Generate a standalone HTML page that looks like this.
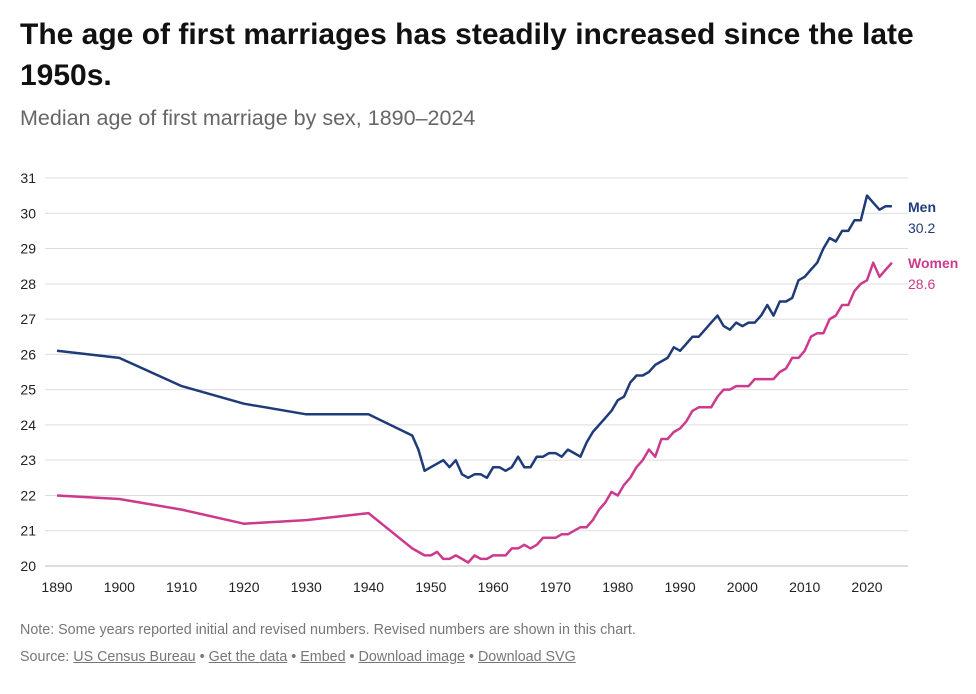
<!DOCTYPE html>
<html><head><meta charset="utf-8"><style>
body{margin:0;background:#fff;font-family:"Liberation Sans",sans-serif;width:976px;height:694px;overflow:hidden;position:relative}
h1{position:absolute;left:20px;top:14px;margin:0;font-size:30px;line-height:41px;font-weight:bold;color:#111;width:940px}
.sub{position:absolute;left:20px;top:106px;font-size:21.5px;color:#666}
.note{position:absolute;left:20px;top:622px;font-size:14.3px;color:#777}
.src{position:absolute;left:20px;top:649px;font-size:14.3px;color:#777}
.src a{color:#777;text-decoration:underline}
</style></head><body>
<h1>The age of first marriages has steadily increased since the late 1950s.</h1>
<div class="sub">Median age of first marriage by sex, 1890–2024</div>
<svg id="chart" width="976" height="694" style="position:absolute;left:0;top:0"></svg>
<div class="note">Note: Some years reported initial and revised numbers. Revised numbers are shown in this chart.</div>
<div class="src">Source: <a>US Census Bureau</a> • <a>Get the data</a> • <a>Embed</a> • <a>Download image</a> • <a>Download SVG</a></div>
<script>
const years=[1890,1900,1910,1920,1930,1940,1947,1948,1949,1950,1951,1952,1953,1954,1955,1956,1957,1958,1959,1960,1961,1962,1963,1964,1965,1966,1967,1968,1969,1970,1971,1972,1973,1974,1975,1976,1977,1978,1979,1980,1981,1982,1983,1984,1985,1986,1987,1988,1989,1990,1991,1992,1993,1994,1995,1996,1997,1998,1999,2000,2001,2002,2003,2004,2005,2006,2007,2008,2009,2010,2011,2012,2013,2014,2015,2016,2017,2018,2019,2020,2021,2022,2023,2024];
const men=[26.1,25.9,25.1,24.6,24.3,24.3,23.7,23.3,22.7,22.8,22.9,23.0,22.8,23.0,22.6,22.5,22.6,22.6,22.5,22.8,22.8,22.7,22.8,23.1,22.8,22.8,23.1,23.1,23.2,23.2,23.1,23.3,23.2,23.1,23.5,23.8,24.0,24.2,24.4,24.7,24.8,25.2,25.4,25.4,25.5,25.7,25.8,25.9,26.2,26.1,26.3,26.5,26.5,26.7,26.9,27.1,26.8,26.7,26.9,26.8,26.9,26.9,27.1,27.4,27.1,27.5,27.5,27.6,28.1,28.2,28.4,28.6,29.0,29.3,29.2,29.5,29.5,29.8,29.8,30.5,30.3,30.1,30.2,30.2];
const women=[22.0,21.9,21.6,21.2,21.3,21.5,20.5,20.4,20.3,20.3,20.4,20.2,20.2,20.3,20.2,20.1,20.3,20.2,20.2,20.3,20.3,20.3,20.5,20.5,20.6,20.5,20.6,20.8,20.8,20.8,20.9,20.9,21.0,21.1,21.1,21.3,21.6,21.8,22.1,22.0,22.3,22.5,22.8,23.0,23.3,23.1,23.6,23.6,23.8,23.9,24.1,24.4,24.5,24.5,24.5,24.8,25.0,25.0,25.1,25.1,25.1,25.3,25.3,25.3,25.3,25.5,25.6,25.9,25.9,26.1,26.5,26.6,26.6,27.0,27.1,27.4,27.4,27.8,28.0,28.1,28.6,28.2,28.4,28.6];
const yTicks=[20,21,22,23,24,25,26,27,28,29,30,31];
const xTicks=[1890,1900,1910,1920,1930,1940,1950,1960,1970,1980,1990,2000,2010,2020];
const NS="http://www.w3.org/2000/svg";
const svg=document.getElementById('chart');
const x=v=>57+(v-1890)*(810/130);
const y=v=>566-(v-20)*(388/11);
function mk(t,a){const e=document.createElementNS(NS,t);for(const k in a)e.setAttribute(k,a[k]);svg.appendChild(e);return e;}
yTicks.forEach(t=>{
 const l=mk('line',{x1:45,x2:908,y1:y(t),y2:y(t),stroke:t===20?'#bbb':'#ddd','stroke-width':1});
 
 
 const tx=mk('text',{x:36,y:y(t)+5,'text-anchor':'end','font-size':14,fill:'#222','font-family':'Liberation Sans'});
 tx.textContent=t;
 
 
});
xTicks.forEach(t=>{
 const tx=mk('text',{x:x(t),y:592,'text-anchor':'middle','font-size':14,fill:'#222','font-family':'Liberation Sans'});
 tx.textContent=t;
 
 
});
function line(vals,col,name){
 const p=mk('path',{d:vals.map((v,i)=>(i?'L':'M')+x(years[i]).toFixed(1)+','+y(v).toFixed(1)).join(''),fill:'none',stroke:col,'stroke-width':2.5,'stroke-linejoin':'round'});
 
 
}
line(men,'#1f3b78','men-line');
line(women,'#cc3a8e','women-line');
function lab(t,yy,col,bold,name){
 const e=mk('text',{x:908,y:yy,'font-size':14,fill:col,'font-weight':bold?'bold':'normal','font-family':'Liberation Sans'});
 e.textContent=t;
 
 
}
lab('Men',212,'#1f3b78',true,'legend-men');
lab(men[men.length-1].toFixed(1),233,'#1f3b78',false,'men-last-value');
lab('Women',268,'#cc3a8e',true,'legend-women');
lab(women[women.length-1].toFixed(1),289,'#cc3a8e',false,'women-last-value');
</script>
</body></html>
